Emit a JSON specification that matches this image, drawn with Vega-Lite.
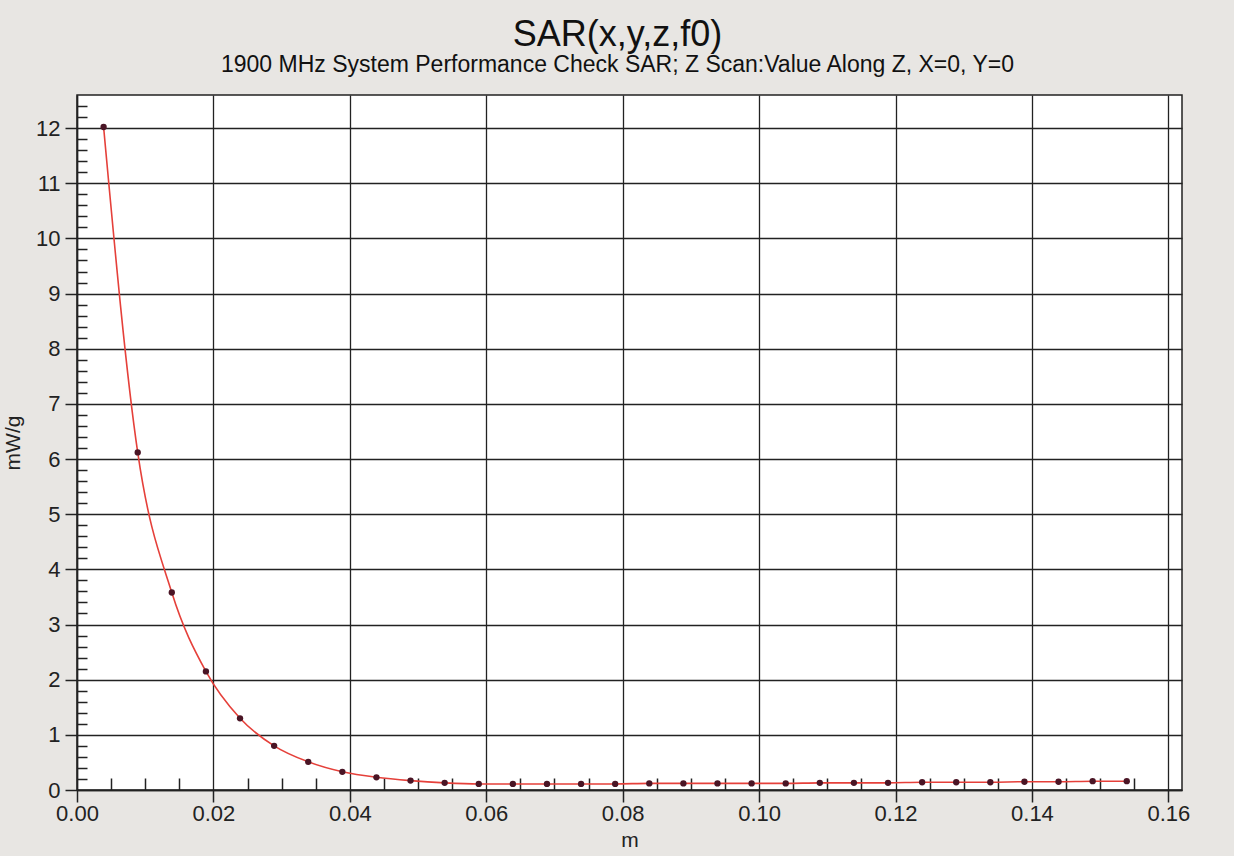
{
  "$schema": "https://vega.github.io/schema/vega-lite/v6.json",
  "autosize": "none",
  "width": 1105,
  "height": 695,
  "padding": {"left": 77, "top": 95, "right": 52, "bottom": 66},
  "background": "#e8e6e3",
  "title": {
    "text": "SAR(x,y,z,f0)",
    "subtitle": "1900 MHz System Performance Check SAR; Z Scan:Value Along Z, X=0, Y=0",
    "font": "Liberation Sans",
    "subtitleFont": "Liberation Sans",
    "fontSize": 36,
    "fontWeight": "normal",
    "subtitleFontSize": 23,
    "color": "#111111",
    "subtitleColor": "#111111",
    "anchor": "middle",
    "dx": -12,
    "offset": 17,
    "subtitlePadding": 0
  },
  "config": {
    "view": {"fill": "white", "stroke": "#222222", "strokeWidth": 1.5},
    "axis": {
      "labelFont": "Liberation Sans",
      "titleFont": "Liberation Sans",
      "labelFontSize": 22,
      "titleFontSize": 21,
      "titleFontWeight": "normal",
      "labelColor": "#222222",
      "titleColor": "#222222",
      "domainColor": "#222222",
      "domainWidth": 1.5,
      "tickColor": "#222222",
      "tickWidth": 1.5,
      "gridColor": "#222222",
      "gridWidth": 1.3
    }
  },
  "data": {
    "values": [
      {"z": 0.0039, "sar": 12.02},
      {"z": 0.0089, "sar": 6.12},
      {"z": 0.0139, "sar": 3.58},
      {"z": 0.0189, "sar": 2.15},
      {"z": 0.0239, "sar": 1.3},
      {"z": 0.0289, "sar": 0.8},
      {"z": 0.0339, "sar": 0.51},
      {"z": 0.0389, "sar": 0.33},
      {"z": 0.0439, "sar": 0.23},
      {"z": 0.0489, "sar": 0.17},
      {"z": 0.0539, "sar": 0.13},
      {"z": 0.0589, "sar": 0.11},
      {"z": 0.0639, "sar": 0.11},
      {"z": 0.0689, "sar": 0.11},
      {"z": 0.0739, "sar": 0.11},
      {"z": 0.0789, "sar": 0.11},
      {"z": 0.0839, "sar": 0.12},
      {"z": 0.0889, "sar": 0.12},
      {"z": 0.0939, "sar": 0.12},
      {"z": 0.0989, "sar": 0.12},
      {"z": 0.1039, "sar": 0.12},
      {"z": 0.1089, "sar": 0.13},
      {"z": 0.1139, "sar": 0.13},
      {"z": 0.1189, "sar": 0.13},
      {"z": 0.1239, "sar": 0.14},
      {"z": 0.1289, "sar": 0.14},
      {"z": 0.1339, "sar": 0.14},
      {"z": 0.1389, "sar": 0.15},
      {"z": 0.1439, "sar": 0.15},
      {"z": 0.1489, "sar": 0.16},
      {"z": 0.1539, "sar": 0.16}
    ]
  },
  "encoding": {
    "x": {
      "field": "z",
      "type": "quantitative",
      "title": "m",
      "scale": {"domain": [0, 0.162], "nice": false, "zero": true},
      "axis": {
        "values": [0, 0.005, 0.01, 0.015, 0.02, 0.025, 0.03, 0.035, 0.04, 0.045, 0.05, 0.055, 0.06, 0.065, 0.07, 0.075, 0.08, 0.085, 0.09, 0.095, 0.1, 0.105, 0.11, 0.115, 0.12, 0.125, 0.13, 0.135, 0.14, 0.145, 0.15, 0.155, 0.16],
        "labelExpr": "abs(datum.value / 0.02 - round(datum.value / 0.02)) < 0.001 ? format(datum.value, '.2f') : ''",
        "tickSize": {"condition": {"test": "abs(datum.value / 0.02 - round(datum.value / 0.02)) > 0.001", "value": -12}, "value": 12},
        "gridOpacity": {"condition": {"test": "abs(datum.value / 0.02 - round(datum.value / 0.02)) > 0.001", "value": 0}, "value": 1},
        "grid": true,
        "labelPadding": 1,
        "titlePadding": 5,
        "labelFlush": false
      }
    },
    "y": {
      "field": "sar",
      "type": "quantitative",
      "title": "mW/g",
      "scale": {"domain": [0, 12.6], "nice": false},
      "axis": {
        "values": [0, 0.2, 0.4, 0.6, 0.8, 1, 1.2, 1.4, 1.6, 1.8, 2, 2.2, 2.4, 2.6, 2.8, 3, 3.2, 3.4, 3.6, 3.8, 4, 4.2, 4.4, 4.6, 4.8, 5, 5.2, 5.4, 5.6, 5.8, 6, 6.2, 6.4, 6.6, 6.8, 7, 7.2, 7.4, 7.6, 7.8, 8, 8.2, 8.4, 8.6, 8.8, 9, 9.2, 9.4, 9.6, 9.8, 10, 10.2, 10.4, 10.6, 10.8, 11, 11.2, 11.4, 11.6, 11.8, 12, 12.2, 12.4],
        "labelExpr": "abs(datum.value - round(datum.value)) < 0.001 ? format(datum.value, 'd') : ''",
        "tickSize": {"condition": {"test": "abs(datum.value - round(datum.value)) > 0.001", "value": -10}, "value": 12},
        "gridOpacity": {"condition": {"test": "abs(datum.value - round(datum.value)) > 0.001", "value": 0}, "value": 1},
        "grid": true,
        "labelPadding": 5,
        "titlePadding": 12,
        "labelFlush": false
      }
    }
  },
  "layer": [
    {
      "mark": {"type": "line", "color": "#e5403a", "strokeWidth": 1.6, "interpolate": "monotone"}
    },
    {
      "mark": {"type": "point", "filled": true, "color": "#4a1525", "size": 40, "opacity": 1}
    }
  ]
}
